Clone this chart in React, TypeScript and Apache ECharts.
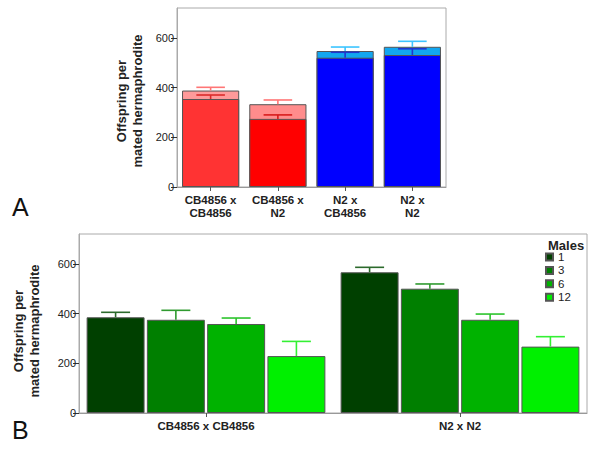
import React, { useEffect, useRef } from "react";
import * as echarts from "echarts";

// ---- Data (panel A) ----
const crossCategories = ["CB4856 x\nCB4856", "CB4856 x\nN2", "N2 x\nCB4856", "N2 x\nN2"];
const totalMeans = [388, 333, 547, 564];
const totalUpper = [401, 350, 563, 586];
const innerMeans = [354, 274, 520, 531];
const innerUpper = [370, 290, 542, 556];
const totalColors = ["#ff9a9a", "#ff8c8c", "#12a6f0", "#12a6f0"];
const innerColors = ["#ff3333", "#ff0000", "#0000ff", "#0000ff"];
const totalErrColors = ["#ff7676", "#ff7676", "#3cc4ff", "#3cc4ff"];
const innerErrColors = ["#dc2a2a", "#d81c1c", "#2036d0", "#2036d0"];

// ---- Data (panel B) ----
const groupCategories = ["CB4856 x CB4856", "N2 x N2"];
const maleCounts = ["1", "3", "6", "12"];
const means1 = [385, 566];
const means3 = [375, 500];
const means6 = [358, 375];
const means12 = [229, 267];
const upper1 = [405, 586];
const upper3 = [413, 519];
const upper6 = [382, 398];
const upper12 = [288, 307];
const maleColors = ["#004000", "#007f00", "#00b200", "#00f000"];
const maleErrColors = ["#2c6a2c", "#2f9a2f", "#2cc42c", "#33f033"];

const yTicks = [0, 200, 400, 600];
const yStep = 200;
const yMax = 720;

const FONT = "'Liberation Sans', Arial, sans-serif";

function errRender(nSeries: number, idx: number, catGap: number, barGap: number, colors: string[]) {
  return (params: any, api: any) => {
    const cat = api.value(0);
    const mean = api.value(1);
    const up = api.value(2);
    const p0 = api.coord([cat, mean]);
    const p1 = api.coord([cat, up]);
    const band = api.size([1, 0])[0];
    const w = (band * (1 - catGap)) / (nSeries + (nSeries - 1) * barGap);
    const offset = (idx - (nSeries - 1) / 2) * w * (1 + barGap);
    const x = p0[0] + offset;
    const half = w * 0.25;
    const color = colors[params.dataIndex % colors.length];
    return {
      type: "group",
      children: [
        { type: "line", shape: { x1: x, y1: p0[1], x2: x, y2: p1[1] }, style: { stroke: color, lineWidth: 1.6 } },
        { type: "line", shape: { x1: x - half, y1: p1[1], x2: x + half, y2: p1[1] }, style: { stroke: color, lineWidth: 1.6 } },
      ],
    };
  };
}

export default function App() {
  const ref = useRef<HTMLDivElement>(null);
  useEffect(() => {
    document.body.style.margin = "0";
    const chart = echarts.init(ref.current!, null, { renderer: "svg" });

    const yAxisCommon = (gridIndex: number) => ({
      type: "value",
      gridIndex,
      position: "left",
      min: 0,
      max: yMax,
      interval: yStep,
      splitLine: { show: false },
      axisLine: { show: true, lineStyle: { color: "#aaa" } },
      axisTick: { show: true, customValues: yTicks, length: 6, lineStyle: { color: "#333" } },
      axisLabel: { showMaxLabel: false, fontSize: 11, color: "#222", margin: 3, fontFamily: FONT },
    });

    const xAxisCommon = (gridIndex: number, data: string[]) => ({
      type: "category",
      gridIndex,
      position: "bottom",
      data,
      axisLine: { show: true, lineStyle: { color: "#999" } },
      axisTick: { show: true, alignWithLabel: true, length: 4, lineStyle: { color: "#555" } },
      axisLabel: { interval: 0, fontSize: 11.5, fontWeight: "bold", color: "#222", lineHeight: 13, margin: 6, fontFamily: FONT },
    });

    const maleMeans = [means1, means3, means6, means12];
    const maleUppers = [upper1, upper3, upper6, upper12];

    const series: any[] = [
      {
        type: "bar",
        name: "total",
        xAxisIndex: 0,
        yAxisIndex: 0,
        barGap: "-100%",
        barCategoryGap: "15%",
        data: totalMeans.map((v, i) => ({ value: v, itemStyle: { color: totalColors[i] } })),
        itemStyle: { borderColor: "#555", borderWidth: 1 },
        z: 2,
      },
      {
        type: "bar",
        name: "inner",
        xAxisIndex: 0,
        yAxisIndex: 0,
        barGap: "-100%",
        barCategoryGap: "15%",
        data: innerMeans.map((v, i) => ({ value: v, itemStyle: { color: innerColors[i] } })),
        itemStyle: { borderColor: "#555", borderWidth: 1 },
        z: 3,
      },
      {
        type: "custom",
        name: "totalErr",
        xAxisIndex: 0,
        yAxisIndex: 0,
        renderItem: errRender(1, 0, 0.15, 0, totalErrColors),
        encode: { x: 0, y: [1, 2] },
        data: totalMeans.map((v, i) => [i, v, totalUpper[i]]),
        z: 5,
      },
      {
        type: "custom",
        name: "innerErr",
        xAxisIndex: 0,
        yAxisIndex: 0,
        renderItem: errRender(1, 0, 0.15, 0, innerErrColors),
        encode: { x: 0, y: [1, 2] },
        data: innerMeans.map((v, i) => [i, v, innerUpper[i]]),
        z: 5,
      },
    ];

    maleCounts.forEach((m, k) => {
      series.push({
        type: "bar",
        name: m,
        xAxisIndex: 1,
        yAxisIndex: 1,
        barGap: "4%",
        barCategoryGap: "6%",
        data: maleMeans[k],
        itemStyle: { color: maleColors[k], borderColor: "#555", borderWidth: 1 },
        z: 2,
      });
    });
    maleCounts.forEach((m, k) => {
      series.push({
        type: "custom",
        name: "err" + m,
        xAxisIndex: 1,
        yAxisIndex: 1,
        renderItem: errRender(4, k, 0.06, 0.04, [maleErrColors[k]]),
        encode: { x: 0, y: [1, 2] },
        data: maleMeans[k].map((v, i) => [i, v, maleUppers[k][i]]),
        z: 5,
      });
    });

    chart.setOption({
      animation: false,
      backgroundColor: "#ffffff",
      textStyle: { fontFamily: FONT },
      grid: [
        { left: 177, top: 8, width: 269, height: 179, show: true, borderColor: "#aaa", borderWidth: 1, backgroundColor: "#fff" },
        { left: 79, top: 234, width: 508, height: 179, show: true, borderColor: "#aaa", borderWidth: 1, backgroundColor: "#fff" },
      ],
      xAxis: [xAxisCommon(0, crossCategories), xAxisCommon(1, groupCategories)],
      yAxis: [yAxisCommon(0), yAxisCommon(1)],
      legend: {
        data: maleCounts,
        orient: "vertical",
        left: 545,
        top: 251,
        padding: 0,
        itemWidth: 7,
        itemHeight: 7,
        itemGap: 1.4,
        itemTextGap: 1,
        icon: "rect",
        selectedMode: false,
        textStyle: { fontSize: 11.5, lineHeight: 11, color: "#222", fontFamily: FONT },
      },
      graphic: [
        {
          type: "text",
          x: 129,
          y: 101,
          rotation: Math.PI / 2,
          style: {
            text: "Offspring per\nmated hermaphrodite",
            font: "bold 13px " + FONT,
            lineHeight: 16,
            fill: "#222",
            align: "center",
            verticalAlign: "middle",
          },
        },
        {
          type: "text",
          x: 26,
          y: 331,
          rotation: Math.PI / 2,
          style: {
            text: "Offspring per\nmated hermaphrodite",
            font: "bold 13px " + FONT,
            lineHeight: 16,
            fill: "#222",
            align: "center",
            verticalAlign: "middle",
          },
        },
        {
          type: "text",
          x: 12,
          y: 207,
          style: { text: "A", font: "25px " + FONT, fill: "#111", align: "left", verticalAlign: "middle" },
        },
        {
          type: "text",
          x: 12,
          y: 430,
          style: { text: "B", font: "25px " + FONT, fill: "#111", align: "left", verticalAlign: "middle" },
        },
        {
          type: "text",
          x: 548,
          y: 245,
          style: { text: "Males", font: "bold 13px " + FONT, lineHeight: 11, fill: "#222", align: "left", verticalAlign: "middle" },
        },
      ],
      series,
    });
    return () => chart.dispose();
  }, []);
  return <div ref={ref} style={{ width: 600, height: 450 }} />;
}
